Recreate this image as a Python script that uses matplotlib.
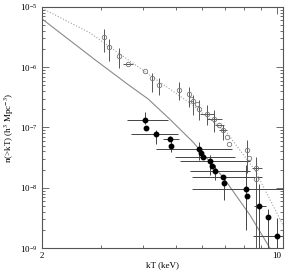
import numpy as np
import matplotlib
matplotlib.use("Agg")
import matplotlib.pyplot as plt
from matplotlib.ticker import FixedLocator, NullFormatter, LogLocator

plt.rcParams['font.family'] = ['Liberation Serif', 'DejaVu Serif']
plt.rcParams['mathtext.fontset'] = 'stix'

# filled points (black)
kt_fill = [4.05, 4.08, 4.37, 4.81, 4.84, 5.87, 5.95, 6.03, 6.32, 6.41, 6.54, 6.91, 6.95, 8.09, 8.15, 8.85, 9.41, 10.0]
n_fill = [1.33e-7, 9.8e-8, 7.8e-8, 6.44e-8, 4.93e-8, 4.40e-8, 3.77e-8, 3.24e-8, 2.78e-8, 2.30e-8,
          1.90e-8, 1.51e-8, 1.20e-8, 9.5e-9, 7.3e-9, 4.98e-9, 3.27e-9, 1.58e-9]
kt_fill_lo = [3.58, 4.08, 3.68, 4.58, 4.84, 4.37, 5.95, 4.97, 5.15, 6.41, 5.51, 5.59, 6.95, 5.59, 8.15, 8.55, 9.41, 8.49]
kt_fill_hi = [4.74, 4.08, 5.08, 5.11, 4.84, 7.35, 5.95, 7.50, 8.32, 6.41, 8.32, 9.03, 6.95, 10.6, 8.15, 9.28, 9.41, 10.6]
n_fill_hi = [1.81e-7, 9.8e-8, 9.1e-8, 7.3e-8, 6.2e-8, 5.74e-8, 3.77e-8, 3.24e-8, 3.5e-8, 2.30e-8,
             2.39e-8, 1.51e-8, 1.45e-8, 2.39e-8, 7.3e-9, 1.15e-8, 4.5e-9, 3.15e-9]
n_fill_lo = [1.14e-7, 9.8e-8, 5.3e-8, 5.9e-8, 3.92e-8, 2.89e-8, 3.77e-8, 3.24e-8, 1.63e-8, 2.30e-8,
             1.35e-8, 1.51e-8, 6.3e-9, 1.99e-9, 7.3e-9, 1e-10, 1e-10, 1e-10]

# open points (gray)
kt_open = [3.06, 3.16, 3.39, 3.61, 4.05, 4.25, 4.46, 5.11, 5.48, 5.55, 5.63, 5.78, 5.87,
           6.19, 6.50, 6.73, 6.91, 7.11, 7.21, 8.15, 8.26, 8.67, 8.67]
n_open = [3.18e-6, 2.17e-6, 1.54e-6, 1.13e-6, 8.67e-7, 6.63e-7, 5.07e-7, 4.19e-7, 3.60e-7, 2.97e-7,
          2.75e-7, 2.45e-7, 2.03e-7, 1.68e-7, 1.38e-7, 1.10e-7, 9.1e-8, 6.95e-8, 5.32e-8, 4.23e-8,
          3.12e-8, 2.13e-8, 1.40e-8]
kt_open_lo = [3.06, 3.16, 3.39, 3.48, 4.05, 4.25, 4.46, 5.11, 5.48, 5.55, 5.63, 5.78, 5.87,
              5.90, 6.19, 6.54, 6.73, 7.11, 7.21, 8.15, 8.26, 8.43, 8.67]
kt_open_hi = [3.06, 3.16, 3.39, 3.73, 4.05, 4.25, 4.46, 5.11, 5.48, 5.55, 5.63, 5.78, 5.87,
              6.50, 6.87, 6.95, 7.11, 7.11, 7.21, 8.15, 8.26, 9.03, 8.67]
n_open_hi = [4.31e-6, 2.94e-6, 2.09e-6, 1.13e-6, 8.67e-7, 8.03e-7, 6.63e-7, 5.69e-7, 4.70e-7, 2.97e-7,
             3.46e-7, 2.45e-7, 2.86e-7, 2.36e-7, 1.95e-7, 1.10e-7, 1.10e-7, 6.95e-8, 5.32e-8, 6.2e-8,
             3.12e-8, 3.24e-8, 1.40e-8]
n_open_lo = [1.79e-6, 1.27e-6, 9.7e-7, 1.13e-6, 8.67e-7, 3.88e-7, 3.46e-7, 2.86e-7, 2.19e-7, 2.97e-7,
             1.61e-7, 2.45e-7, 1.33e-7, 1.10e-7, 8.4e-8, 1.10e-7, 6.2e-8, 6.95e-8, 5.32e-8, 1.76e-8,
             3.12e-8, 6.3e-9, 1e-10]

# model curves
kt_solid = [2.0, 2.88, 3.6, 4.14, 4.81, 5.63, 6.95, 8.32, 9.54]
n_solid = [6.32e-6, 1.32e-6, 5.2e-7, 2.97e-7, 1.36e-7, 5.74e-8, 1.45e-8, 3.53e-9, 1.0e-9]
kt_dot = [2.0, 2.78, 4.14, 5.51, 7.11, 8.61, 10.43]
n_dot = [9.5e-6, 3.70e-6, 7.73e-7, 2.55e-7, 8.1e-8, 1.97e-8, 2.41e-9]

fig = plt.figure(figsize=(3.0, 2.75), dpi=100)
ax = fig.add_axes([0.14, 0.098, 0.803, 0.877])
ax.set_xscale('log')
ax.set_yscale('log')

ax.plot(kt_solid, n_solid, '-', color='#8a8a8a', lw=0.8)
ax.plot(kt_dot, n_dot, ':', color='#a0a0a0', lw=0.8)

kf = np.array(kt_fill)
nf = np.array(n_fill)
ax.errorbar(kf, nf,
            xerr=[kf - np.array(kt_fill_lo), np.array(kt_fill_hi) - kf],
            yerr=[nf - np.array(n_fill_lo), np.array(n_fill_hi) - nf],
            fmt='o', ms=3.2, color='black', ecolor='#444444', elinewidth=0.7, capsize=0)

ko = np.array(kt_open)
no = np.array(n_open)
ax.errorbar(ko, no,
            xerr=[ko - np.array(kt_open_lo), np.array(kt_open_hi) - ko],
            yerr=[no - np.array(n_open_lo), np.array(n_open_hi) - no],
            fmt='o', ms=3.2, mfc='none', mec='#777777', mew=0.6,
            ecolor='#555555', elinewidth=0.7, capsize=0)

ax.set_xlim(2, 10.43)
ax.set_ylim(1e-9, 1e-5)

ax.xaxis.set_major_locator(FixedLocator([2, 10]))
ax.set_xticklabels(['2', '10'])
ax.xaxis.set_minor_locator(FixedLocator([3, 4, 5, 6, 7, 8, 9]))
ax.xaxis.set_minor_formatter(NullFormatter())
ax.yaxis.set_major_locator(LogLocator(base=10))
ax.yaxis.set_minor_locator(LogLocator(base=10, subs=np.arange(2, 10)))
ax.yaxis.set_minor_formatter(NullFormatter())

ax.tick_params(which='both', direction='in', top=True, right=True, colors='#555555',
               labelcolor='black', labelsize=6.5, width=0.6)
ax.tick_params(which='major', length=5)
ax.tick_params(which='minor', length=2.5)
ax.tick_params(axis='x', pad=3)
ax.tick_params(axis='y', pad=3)
for s in ax.spines.values():
    s.set_color('#555555')
    s.set_linewidth(0.8)

ax.set_xlabel('kT (keV)', fontsize=6.5, labelpad=1)
ax.set_ylabel(r'n(>kT) (h$^3$ Mpc$^{-3}$)', fontsize=6.5)
ax.yaxis.set_label_coords(-0.11, 0.5)

fig.savefig('out.png', dpi=100)
